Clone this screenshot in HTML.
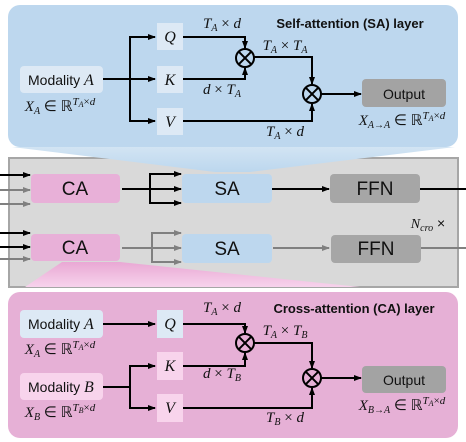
<!DOCTYPE html>
<html><head><style>body{margin:0;background:#fff}svg{display:block}
.t{font-family:"Liberation Sans",sans-serif}
.m{font-family:"Liberation Serif",serif;font-style:italic}</style></head>
<body>
<svg width="466" height="442" viewBox="0 0 466 442" xmlns="http://www.w3.org/2000/svg">
<defs>
<marker id="a" markerWidth="8" markerHeight="8" refX="7" refY="4" orient="auto" markerUnits="userSpaceOnUse"><path d="M0,1 L8,4 L0,7z" fill="#000"/></marker>
<marker id="g" markerWidth="8" markerHeight="8" refX="7" refY="4" orient="auto" markerUnits="userSpaceOnUse"><path d="M0,1 L8,4 L0,7z" fill="#808080"/></marker>
<linearGradient id="pg" x1="0" y1="0" x2="0" y2="1"><stop offset="0" stop-color="#e9a8d4"/><stop offset="1" stop-color="#f7d3ec"/></linearGradient>
<linearGradient id="bg" x1="0" y1="0" x2="0" y2="1"><stop offset="0" stop-color="#d2e4f3"/><stop offset="1" stop-color="#bcd7ee"/></linearGradient>
</defs>
<rect x="8" y="5" width="450" height="142" rx="12" fill="#bdd7ee"/>
<rect x="9" y="158" width="449" height="129" fill="#d9d9d9" stroke="#a6a6a6" stroke-width="2"/>
<polygon points="12,147 455,147 250,172 215,172" fill="url(#bg)"/>
<polygon points="62,262 120,262 360,287 25,287" fill="url(#pg)"/>
<rect x="8" y="292" width="450" height="146" rx="12" fill="#e6b0d6"/>

<g stroke="#000" stroke-width="2" fill="none">
<line x1="103" y1="79" x2="155" y2="79" marker-end="url(#a)"/>
<path d="M155,37 H130 V121 H155" />
<line x1="148" y1="37" x2="155" y2="37" marker-end="url(#a)"/>
<line x1="148" y1="121" x2="155" y2="121" marker-end="url(#a)"/>
<path d="M183,37 H245 V48" marker-end="url(#a)"/>
<path d="M183,79 H245 V68" marker-end="url(#a)"/>
<path d="M254,57 H312 V84" marker-end="url(#a)"/>
<path d="M183,121 H312 V104" marker-end="url(#a)"/>
<line x1="321" y1="94" x2="361" y2="94" marker-end="url(#a)"/>
<line x1="103" y1="324" x2="155" y2="324" marker-end="url(#a)"/>
<path d="M103,387 H130 M155,366 H130 V408 H155"/>
<line x1="148" y1="366" x2="155" y2="366" marker-end="url(#a)"/>
<line x1="148" y1="408" x2="155" y2="408" marker-end="url(#a)"/>
<path d="M183,324 H245 V333" marker-end="url(#a)"/>
<path d="M183,366 H245 V353" marker-end="url(#a)"/>
<path d="M254,343 H312 V368" marker-end="url(#a)"/>
<path d="M183,408 H312 V388" marker-end="url(#a)"/>
<line x1="321" y1="378" x2="361" y2="378" marker-end="url(#a)"/>
<line x1="0" y1="175" x2="30" y2="175" marker-end="url(#a)"/>
<line x1="122" y1="189" x2="150" y2="189"/>
<path d="M180,174 H150 V203 H180"/>
<line x1="170" y1="174" x2="181" y2="174" marker-end="url(#a)"/>
<line x1="150" y1="189" x2="181" y2="189" marker-end="url(#a)"/>
<line x1="170" y1="203" x2="181" y2="203" marker-end="url(#a)"/>
<line x1="272" y1="189" x2="329" y2="189" marker-end="url(#a)"/>
<line x1="420" y1="189" x2="466" y2="189"/>
<line x1="0" y1="233" x2="30" y2="233" marker-end="url(#a)"/>
<line x1="0" y1="247" x2="30" y2="247" marker-end="url(#a)"/>
</g>
<g stroke="#808080" stroke-width="2" fill="none">
<line x1="0" y1="190" x2="30" y2="190" marker-end="url(#g)"/>
<line x1="0" y1="204" x2="30" y2="204" marker-end="url(#g)"/>
<line x1="0" y1="259" x2="30" y2="259" marker-end="url(#g)"/>
<line x1="122" y1="248" x2="152" y2="248"/>
<path d="M180,233 H152 V262 H180"/>
<line x1="170" y1="233" x2="181" y2="233" marker-end="url(#g)"/>
<line x1="152" y1="248" x2="181" y2="248" marker-end="url(#g)"/>
<line x1="170" y1="262" x2="181" y2="262" marker-end="url(#g)"/>
<line x1="273" y1="248" x2="329" y2="248" marker-end="url(#g)"/>
<line x1="421" y1="248" x2="466" y2="248"/>
</g>

<rect x="20" y="66" width="83" height="27" rx="4" fill="#dde9f5"/>
<rect x="157" y="23" width="26" height="27" fill="#dde9f5"/>
<rect x="157" y="66" width="26" height="27" fill="#dde9f5"/>
<rect x="157" y="108" width="26" height="27" fill="#dde9f5"/>
<rect x="362" y="79" width="84" height="28" rx="4" fill="#a3a3a3"/>
<rect x="31" y="174" width="89" height="29" rx="4" fill="#e8b0d8"/>
<rect x="182" y="174" width="90" height="29" rx="4" fill="#bdd7ee"/>
<rect x="330" y="174" width="90" height="29" rx="4" fill="#a6a6a6"/>
<rect x="31" y="234" width="89" height="27" rx="4" fill="#e8b0d8"/>
<rect x="182" y="234" width="90" height="29" rx="4" fill="#bdd7ee"/>
<rect x="331" y="235" width="90" height="28" rx="4" fill="#a6a6a6"/>
<rect x="20" y="310" width="83" height="28" rx="4" fill="#dde9f5"/>
<rect x="20" y="373" width="83" height="27" rx="4" fill="#f8d4ec"/>
<rect x="157" y="310" width="26" height="28" fill="#dde9f5"/>
<rect x="157" y="352" width="26" height="28" fill="#f8d4ec"/>
<rect x="157" y="394" width="26" height="28" fill="#f8d4ec"/>
<rect x="362" y="366" width="84" height="27" rx="4" fill="#a3a3a3"/>

<g stroke="#000" stroke-width="2" fill="none">
<circle cx="245" cy="58" r="9"/><path d="M238.6,51.6 L251.4,64.4 M251.4,51.6 L238.6,64.4"/>
<circle cx="312" cy="94" r="9"/><path d="M305.6,87.6 L318.4,100.4 M318.4,87.6 L305.6,100.4"/>
<circle cx="245" cy="343" r="9"/><path d="M238.6,336.6 L251.4,349.4 M251.4,336.6 L238.6,349.4"/>
<circle cx="312" cy="378" r="9"/><path d="M305.6,371.6 L318.4,384.4 M318.4,371.6 L305.6,384.4"/>
</g>

<g class="t" font-size="14" fill="#111">
<text x="28" y="85">Modality <tspan class="m" font-size="16">A</tspan></text>
<text x="404" y="99" text-anchor="middle">Output</text>
<text x="28" y="329">Modality <tspan class="m" font-size="16">A</tspan></text>
<text x="28" y="392">Modality <tspan class="m" font-size="16">B</tspan></text>
<text x="404" y="385" text-anchor="middle">Output</text>
<text x="350" y="28" text-anchor="middle" font-weight="bold" font-size="13">Self-attention (SA) layer</text>
<text x="354" y="313" text-anchor="middle" font-weight="bold" font-size="13">Cross-attention (CA) layer</text>
<g font-size="19">
<text x="75" y="195" text-anchor="middle">CA</text>
<text x="227" y="195" text-anchor="middle">SA</text>
<text x="375" y="195" text-anchor="middle">FFN</text>
<text x="75" y="254" text-anchor="middle">CA</text>
<text x="227" y="255" text-anchor="middle">SA</text>
<text x="376" y="255" text-anchor="middle">FFN</text>
</g>
</g>
<g class="m" font-size="15" fill="#111" text-anchor="middle">
<g font-size="16">
<text x="170" y="42">Q</text><text x="170" y="85">K</text><text x="170" y="127">V</text>
<text x="170" y="329">Q</text><text x="170" y="371">K</text><text x="170" y="413">V</text>
</g>
<text x="222" y="28">T<tspan font-size="10" dy="3">A</tspan><tspan dy="-3" font-style="normal"> × </tspan>d</text>
<text x="285" y="50">T<tspan font-size="10" dy="3">A</tspan><tspan dy="-3" font-style="normal"> × </tspan>T<tspan font-size="10" dy="3">A</tspan></text>
<text x="222" y="94">d<tspan font-style="normal"> × </tspan>T<tspan font-size="10" dy="3">A</tspan></text>
<text x="285" y="136">T<tspan font-size="10" dy="3">A</tspan><tspan dy="-3" font-style="normal"> × </tspan>d</text>
<text x="60" y="111">X<tspan font-size="10" dy="3">A</tspan><tspan dy="-3" font-style="normal"> ∈ ℝ</tspan><tspan font-size="11" dy="-6">T</tspan><tspan font-size="8" dy="2">A</tspan><tspan font-size="11" dy="-2" font-style="normal">×</tspan><tspan font-size="11">d</tspan></text>
<text x="402" y="125">X<tspan font-size="10" dy="3">A→A</tspan><tspan dy="-3" font-style="normal"> ∈ ℝ</tspan><tspan font-size="11" dy="-6">T</tspan><tspan font-size="8" dy="2">A</tspan><tspan font-size="11" dy="-2" font-style="normal">×</tspan><tspan font-size="11">d</tspan></text>
<text x="222" y="312">T<tspan font-size="10" dy="3">A</tspan><tspan dy="-3" font-style="normal"> × </tspan>d</text>
<text x="285" y="335">T<tspan font-size="10" dy="3">A</tspan><tspan dy="-3" font-style="normal"> × </tspan>T<tspan font-size="10" dy="3">B</tspan></text>
<text x="222" y="378">d<tspan font-style="normal"> × </tspan>T<tspan font-size="10" dy="3">B</tspan></text>
<text x="285" y="422">T<tspan font-size="10" dy="3">B</tspan><tspan dy="-3" font-style="normal"> × </tspan>d</text>
<text x="60" y="354">X<tspan font-size="10" dy="3">A</tspan><tspan dy="-3" font-style="normal"> ∈ ℝ</tspan><tspan font-size="11" dy="-6">T</tspan><tspan font-size="8" dy="2">A</tspan><tspan font-size="11" dy="-2" font-style="normal">×</tspan><tspan font-size="11">d</tspan></text>
<text x="60" y="417">X<tspan font-size="10" dy="3">B</tspan><tspan dy="-3" font-style="normal"> ∈ ℝ</tspan><tspan font-size="11" dy="-6">T</tspan><tspan font-size="8" dy="2">B</tspan><tspan font-size="11" dy="-2" font-style="normal">×</tspan><tspan font-size="11">d</tspan></text>
<text x="402" y="410">X<tspan font-size="10" dy="3">B→A</tspan><tspan dy="-3" font-style="normal"> ∈ ℝ</tspan><tspan font-size="11" dy="-6">T</tspan><tspan font-size="8" dy="2">A</tspan><tspan font-size="11" dy="-2" font-style="normal">×</tspan><tspan font-size="11">d</tspan></text>
<text x="428" y="228" font-size="14">N<tspan font-size="10" dy="3">cro</tspan><tspan dy="-3" font-style="normal" font-family="Liberation Sans"> ×</tspan></text>
</g>
</svg>
</body></html>
